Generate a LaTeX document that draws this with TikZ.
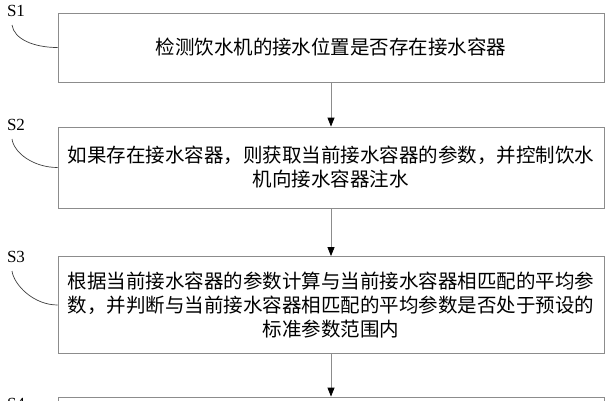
\documentclass[tikz,border=0pt]{standalone}
\usepackage{fontspec}
\setmainfont{Liberation Serif}
\newfontfamily\cjk{Noto Sans CJK SC}
\usetikzlibrary{arrows.meta}
\tikzset{
  stepbox/.style={draw=black!45, line width=0.8pt, text width=530pt, inner xsep=8pt,
    align=center, font=\cjk\fontsize{19.5pt}{24pt}\selectfont},
  steplabel/.style={font=\fontsize{17pt}{17pt}\selectfont, inner sep=0pt},
  flow/.style={draw=black!45, line width=0.8pt, -{Triangle[black,width=7pt,length=9pt]}},
  leader/.style={draw=black!75, line width=0.7pt}
}
\begin{document}
\begin{tikzpicture}[x=1pt,y=-1pt]
  \path[use as bounding box, fill=white] (0,0) rectangle (608,400);

  \node[stepbox, minimum height=69pt] (b1) at (331,47.5) {检测饮水机的接水位置是否存在接水容器};
  \node[stepbox, minimum height=81pt] (b2) at (331,167.5)
    {如果存在接水容器，则获取当前接水容器的参数，并控制饮水\\机向接水容器注水};
  \node[stepbox, minimum height=97pt] (b3) at (331,305)
    {根据当前接水容器的参数计算与当前接水容器相匹配的平均参\\数，并判断与当前接水容器相匹配的平均参数是否处于预设的\\标准参数范围内};
  \node[stepbox, minimum height=60pt] (b4) at (331,427) {};

  \foreach \name/\y in {1/11,2/125,3/257,4/404}
    \node[steplabel] (s\name) at (16,\y) {S\name};
  \foreach \name/\y in {1/25,2/139,3/271}
    \coordinate (c\name) at (12,\y);

  \path[flow] (b1) edge (b2)
              (b2) edge (b3)
              (b3) edge (b4);

  \draw[leader] (c1) .. controls +(2,14) and +(-24,0) .. (b1.west);
  \draw[leader] (c2) .. controls +(2,14) and +(-24,0) .. (b2.west);
  \draw[leader] (c3) .. controls +(2,14) and +(-24,0) .. (b3.west);
\end{tikzpicture}
\end{document}
